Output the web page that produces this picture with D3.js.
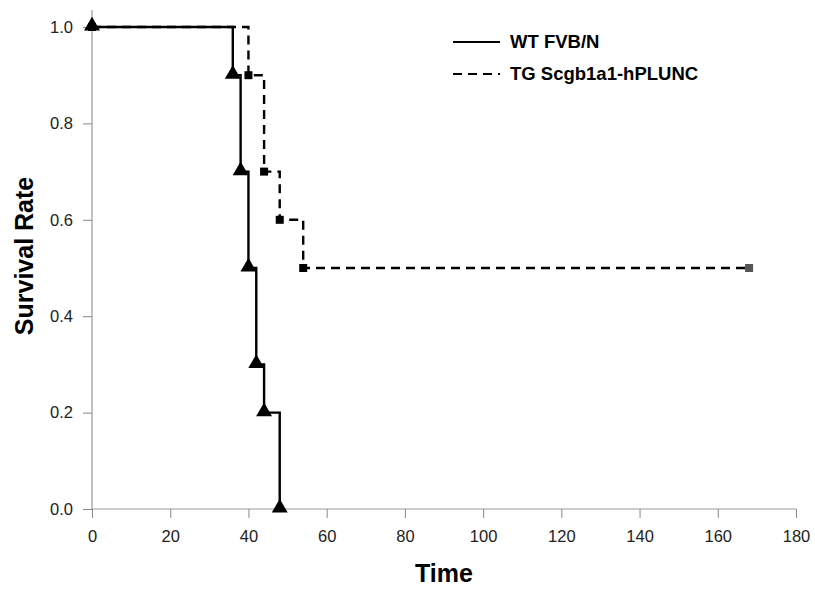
<!DOCTYPE html>
<html>
<head>
<meta charset="utf-8">
<script src="https://cdn.jsdelivr.net/npm/d3@7"></script>
<style>
  body { margin: 0; background: #fff; }
  svg text { font-family: "Liberation Sans", Arial, sans-serif; }
</style>
</head>
<body>
<script>
// survival data (time, rate) at each step
var wtTimes = [0, 36, 38, 40, 42, 44, 48];
var wtRates = [1.0, 0.9, 0.7, 0.5, 0.3, 0.2, 0.0];
var tgTimes = [0, 40, 44, 48, 54];
var tgRates = [1.0, 0.9, 0.7, 0.6, 0.5];
var tgCensorTime = 168;
var xTicks = [0, 20, 40, 60, 80, 100, 120, 140, 160, 180];
var yTicks = [0.0, 0.2, 0.4, 0.6, 0.8, 1.0];
var legendNames = ['WT FVB/N', 'TG Scgb1a1-hPLUNC'];

var W = 815, H = 589;
var svg = d3.select('body').append('svg')
    .attr('width', W).attr('height', H);

var x = d3.scaleLinear().domain([0, 180]).range([92, 796]);
var y = d3.scaleLinear().domain([0, 1]).range([509, 27]);

// axes
var xAxis = svg.append('g')
    .attr('transform', 'translate(0,' + y(0) + ')')
    .call(d3.axisBottom(x).tickValues(xTicks).tickSize(9).tickPadding(12));
var yAxis = svg.append('g')
    .attr('transform', 'translate(' + x(0) + ',0)')
    .call(d3.axisLeft(y).tickValues(yTicks).tickSize(9).tickPadding(10).tickFormat(d3.format('.1f')));
[xAxis, yAxis].forEach(function(a) {
    a.select('.domain').attr('stroke', '#999').attr('stroke-width', 1.2);
    a.selectAll('.tick line').attr('stroke', '#888');
    a.selectAll('.tick text').attr('fill', '#222').style('font-size', '16.5px');
});
// axis lines: y extends above 1.0, x starts at the origin
yAxis.select('.domain').attr('d', 'M0,' + y(0) + 'V10');
xAxis.select('.domain').attr('d', 'M' + x(0) + ',0H' + x(180));

svg.append('text')
    .attr('x', 444).attr('y', 582)
    .attr('text-anchor', 'middle')
    .style('font-size', '25px').style('font-weight', 'bold')
    .text('Time');
svg.append('text')
    .attr('transform', 'translate(33,256) rotate(-90)')
    .attr('text-anchor', 'middle')
    .style('font-size', '25px').style('font-weight', 'bold')
    .text('Survival Rate');

function stepPoints(times, rates, endTime) {
    var pts = [[times[0], rates[0]]];
    for (var i = 1; i < times.length; i++) {
        pts.push([times[i], rates[i - 1]]);
        pts.push([times[i], rates[i]]);
    }
    if (endTime != null) pts.push([endTime, rates[rates.length - 1]]);
    return pts;
}

var line = d3.line().x(function(d) { return x(d[0]); }).y(function(d) { return y(d[1]); });

svg.append('path')
    .attr('d', line(stepPoints(tgTimes, tgRates, tgCensorTime)))
    .attr('fill', 'none').attr('stroke', '#000')
    .attr('stroke-width', 2.4).attr('stroke-dasharray', '9,6');

svg.append('path')
    .attr('d', line(stepPoints(wtTimes, wtRates, null)))
    .attr('fill', 'none').attr('stroke', '#000')
    .attr('stroke-width', 2.4);

// TG markers (squares)
svg.selectAll('.sq').data(tgTimes.map(function(t, i) { return [t, tgRates[i]]; }))
    .enter().append('rect')
    .attr('x', function(d) { return x(d[0]) - 4; })
    .attr('y', function(d) { return y(d[1]) - 4; })
    .attr('width', 8).attr('height', 8)
    .attr('fill', '#000');
svg.append('rect')
    .attr('x', x(tgCensorTime) - 4).attr('y', y(tgRates[tgRates.length - 1]) - 4)
    .attr('width', 8).attr('height', 8)
    .attr('fill', '#555');

// WT markers (triangles)
var tri = d3.symbol().type(d3.symbolTriangle).size(110);
svg.selectAll('.tri').data(wtTimes.map(function(t, i) { return [t, wtRates[i]]; }))
    .enter().append('path')
    .attr('d', tri)
    .attr('transform', function(d) { return 'translate(' + x(d[0]) + ',' + (y(d[1]) - 1) + ')'; })
    .attr('fill', '#000');

// legend
var leg = svg.append('g');
legendNames.forEach(function(name, i) {
    var ly = 42 + i * 32;
    leg.append('line')
        .attr('x1', 453).attr('x2', 500).attr('y1', ly).attr('y2', ly)
        .attr('stroke', '#000').attr('stroke-width', 2.2)
        .attr('stroke-dasharray', i === 1 ? '9,6' : null);
    leg.append('text')
        .attr('x', 510).attr('y', ly + 6)
        .style('font-size', '18.5px').style('font-weight', 'bold')
        .text(name);
});
</script>
</body>
</html>
